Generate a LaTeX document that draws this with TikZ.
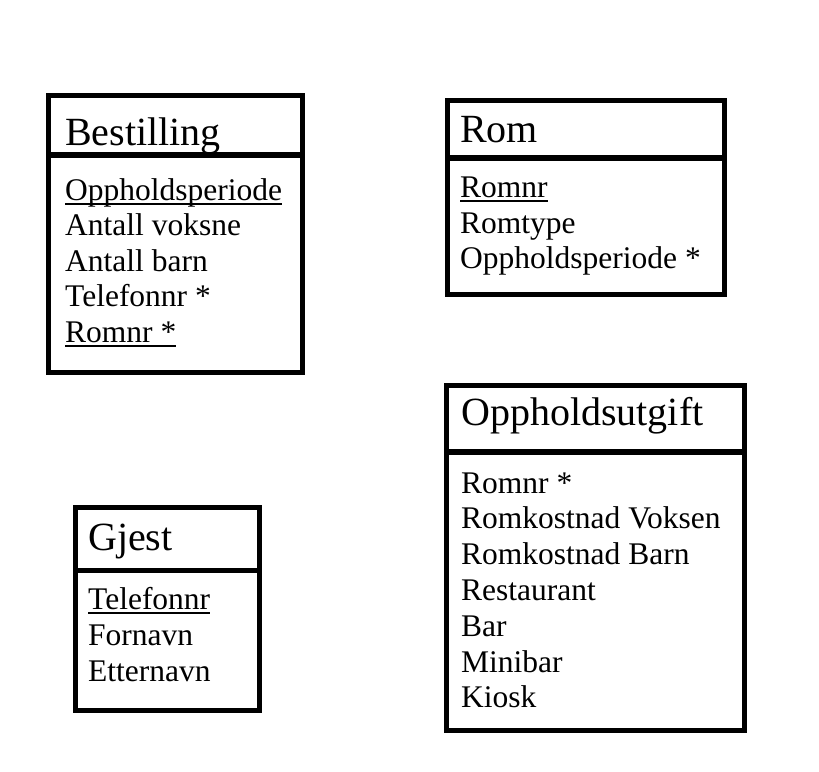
\documentclass[tikz,border=0pt]{standalone}
\usepackage{fontspec}
\setmainfont{Liberation Serif}
\newcommand{\keyattr}[1]{\setbox0\hbox{#1}\rlap{\rule[-5pt]{\wd0}{2.3pt}}\box0}
\begin{document}
\begin{tikzpicture}[x=1pt,y=-1pt,
  entity/.style={draw=black,line width=5pt,line join=miter},
  divider/.style={draw=black,line width=5.5pt},
  title/.style={anchor=base west,inner sep=0pt,font=\fontsize{40}{44}\selectfont},
  attr/.style={anchor=base west,inner sep=0pt,font=\fontsize{31.5}{35}\selectfont}]
\useasboundingbox (0,0) rectangle (819,771);
% Bestilling
\draw[entity] (48.5,95.5) coordinate (bTL) rectangle (302.5,372.5) coordinate (bBR);
\coordinate (bL) at (48.5,155); \coordinate (bR) at (302.5,155);
\draw[divider] (bL) -- (bR);
\node[title] (bT) at (65,145) {Bestilling};
\node[attr] (b1) at (65,200) {\keyattr{Oppholdsperiode}};
\node[attr] (b2) at (65,235.5) {Antall voksne};
\node[attr] (b3) at (65,271) {Antall barn};
\node[attr] (b4) at (65,306.5) {Telefonnr *};
\node[attr] (b5) at (65,342) {\keyattr{Romnr *}};
% Rom
\draw[entity] (447.5,100.5) coordinate (rTL) rectangle (724.5,294.5) coordinate (rBR);
\coordinate (rL) at (447.5,158); \coordinate (rR) at (724.5,158);
\draw[divider] (rL) -- (rR);
\node[title] (rT) at (460,142) {Rom};
\node[attr] (r1) at (460,197) {\keyattr{Romnr}};
\node[attr] (r2) at (460,233) {Romtype};
\node[attr] (r3) at (460,268.5) {Oppholdsperiode *};
% Oppholdsutgift
\draw[entity] (446.5,385.5) coordinate (oTL) rectangle (744,730.5) coordinate (oBR);
\coordinate (oL) at (446.5,452); \coordinate (oR) at (744,452);
\draw[divider] (oL) -- (oR);
\node[title] (oT) at (461,425) {Oppholdsutgift};
\node[attr] (o1) at (461,493) {Romnr *};
\node[attr] (o2) at (461,528.5) {Romkostnad Voksen};
\node[attr] (o3) at (461,564) {Romkostnad Barn};
\node[attr] (o4) at (461,600) {Restaurant};
\node[attr] (o5) at (461,636) {Bar};
\node[attr] (o6) at (461,672) {Minibar};
\node[attr] (o7) at (461,707) {Kiosk};
% Gjest
\draw[entity] (75,507) coordinate (gTL) rectangle (259.5,710.5) coordinate (gBR);
\coordinate (gL) at (75,570.5); \coordinate (gR) at (262,570.5);
\draw[divider] (gL) -- (gR);
\node[title] (gT) at (88,550) {Gjest};
\node[attr] (g1) at (88,609) {\keyattr{Telefonnr}};
\node[attr] (g2) at (88,645) {Fornavn};
\node[attr] (g3) at (88,681) {Etternavn};
\end{tikzpicture}
\end{document}
